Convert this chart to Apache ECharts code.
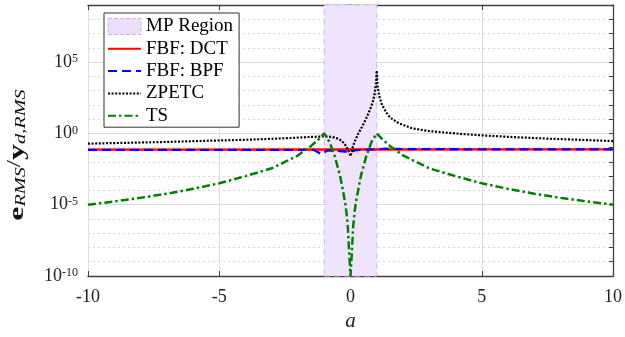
<!DOCTYPE html>
<html>
<head>
<meta charset="utf-8">
<script src="https://cdn.jsdelivr.net/npm/echarts@6/dist/echarts.min.js"></script>
<style>
  html, body { margin: 0; padding: 0; background: #fff; }
  #chart { width: 625px; height: 337px; }
</style>
</head>
<body>
<div id="chart"></div>
<script>
// x values (a) and log10 of e_RMS / y_d,RMS
const mpRegion = [-1, 1];

const dctA = [-10, -5, 0, 5, 10];
const dctExp = [-1.14, -1.14, -1.13, -1.12, -1.12];

const bpfA = [-10, -5, -1.4, -1.25, -1.12, -1.0, -0.9, -0.6, -0.4, -0.2, 0, 0.2, 0.5, 1, 1.3, 2, 5, 10];
const bpfExp = [-1.16, -1.16, -1.16, -1.3, -1.45, -1.35, -1.2, -1.2, -1.25, -1.27, -1.28, -1.18, -1.15, -1.12, -1.08, -1.1, -1.12, -1.12];

const zpetcA = [-10, -8.5, -7, -5.5, -4, -3, -2, -1.5, -1, -0.7, -0.5, -0.35, -0.22, -0.12, -0.05, 0,
  0.1, 0.2, 0.3, 0.45, 0.6, 0.75, 0.85, 0.92, 0.97, 1, 1.03, 1.1, 1.2, 1.35, 1.5, 1.85, 2.35, 3, 3.65, 4.3,
  5, 6.2, 7.5, 8.7, 10];
const zpetcExp = [-0.72, -0.66, -0.6, -0.52, -0.45, -0.38, -0.3, -0.25, -0.21, -0.25, -0.36, -0.5, -0.75, -1.05, -1.35, -1.6,
  -0.85, -0.4, 0.0, 0.5, 1.05, 1.7, 2.2, 2.8, 3.5, 4.4, 3.3, 2.6, 2.0, 1.5, 1.12, 0.7, 0.35, 0.16, 0.05, -0.05,
  -0.14, -0.26, -0.37, -0.45, -0.54];

const tsA = [-10, -9, -8, -7, -6, -5, -4, -3, -2.5, -2, -1.75, -1.5, -1.25, -1,
  -0.8, -0.6, -0.4, -0.3, -0.2, -0.15, -0.1, -0.05, 0, 0.05, 0.1, 0.15, 0.2, 0.3, 0.4, 0.6, 0.8,
  1, 1.25, 1.5, 1.75, 2, 2.5, 3, 4, 5, 6, 7, 8, 9, 10];
const tsExp = [-5.0, -4.77, -4.52, -4.23, -3.89, -3.5, -3.0, -2.45, -2.0, -1.55, -1.2, -0.88, -0.48, 0,
  -0.6, -1.6, -2.95, -3.9, -4.9, -5.6, -6.6, -8.4, -10, -8.4, -6.6, -5.6, -4.9, -3.9, -2.95, -1.6, -0.6,
  0, -0.48, -0.88, -1.2, -1.55, -2.0, -2.45, -3.0, -3.5, -3.89, -4.23, -4.52, -4.77, -5.0];

const xTicks = [-10, -5, 0, 5, 10];
const yMinExp = -10;
const yMaxExp = 9;

const serif = '"Liberation Serif", "Times New Roman", serif';
const axisColor = '#404040';

function toPairs(xs, exps) {
  return xs.map((x, i) => [x, Math.pow(10, exps[i])]);
}

const chart = echarts.init(document.getElementById('chart'), null, { renderer: 'canvas' });

const yBase = {
  type: 'log',
  logBase: 10,
  min: Math.pow(10, yMinExp),
  max: Math.pow(10, yMaxExp)
};

const option = {
  animation: false,
  backgroundColor: '#fff',
  grid: { left: 88, right: 11, top: 5, bottom: 61 },
  legend: {
    left: 104,
    top: 13,
    orient: 'vertical',
    backgroundColor: '#fff',
    borderColor: '#333',
    borderWidth: 1,
    borderRadius: 0,
    padding: [4, 6, 2, 3],
    itemWidth: 33,
    itemHeight: 16,
    itemGap: 3.3,
    // hide the marker dot that line series put in the legend icon
    itemStyle: { opacity: 0 },
    textStyle: { fontFamily: serif, fontSize: 19, color: '#000', lineHeight: 19 },
    data: [
      {
        name: 'MP Region',
        icon: 'rect',
        itemStyle: { opacity: 1, color: '#ecdffc', borderColor: '#cdaaf3', borderWidth: 1, borderType: 'dashed' }
      },
      { name: 'FBF: DCT' },
      { name: 'FBF: BPF' },
      { name: 'ZPETC' },
      { name: 'TS' }
    ]
  },
  xAxis: [
    {
      type: 'value',
      min: xTicks[0],
      max: xTicks[xTicks.length - 1],
      interval: 5,
      position: 'bottom',
      name: 'a',
      nameLocation: 'middle',
      nameGap: 34,
      nameTextStyle: { fontFamily: serif, fontStyle: 'italic', fontSize: 21, color: '#222' },
      axisLine: { show: true, onZero: false, lineStyle: { color: axisColor, width: 1.3 } },
      axisTick: { show: true, inside: true, length: 5, lineStyle: { color: axisColor } },
      axisLabel: { fontFamily: serif, fontSize: 18, color: '#222', margin: 12 },
      splitLine: { show: true, lineStyle: { color: '#dedede', width: 1 } }
    },
    {
      type: 'value',
      min: xTicks[0],
      max: xTicks[xTicks.length - 1],
      interval: 5,
      position: 'top',
      axisLine: { show: true, onZero: false, lineStyle: { color: axisColor, width: 1.3 } },
      axisTick: { show: true, inside: true, length: 5, lineStyle: { color: axisColor } },
      axisLabel: { show: false },
      splitLine: { show: false }
    }
  ],
  yAxis: [
    // labelled decades 10^-10, 10^-5, 10^0, 10^5
    Object.assign({}, yBase, {
      position: 'left',
      interval: 5,
      axisLine: { show: true, lineStyle: { color: axisColor, width: 1.3 } },
      axisTick: { show: false },
      axisLabel: {
        margin: 10,
        formatter: (v) => {
          const e = Math.round(Math.log10(v));
          if (e % 5 !== 0) return '';
          return '{b|10}{s|' + e + '}';
        },
        rich: {
          b: { fontFamily: serif, fontSize: 18, color: '#222', lineHeight: 18, verticalAlign: 'bottom' },
          s: { fontFamily: serif, fontSize: 12, color: '#222', lineHeight: 12, verticalAlign: 'top', padding: [0, 0, 10, 0] }
        }
      },
      splitLine: { show: true, lineStyle: { color: '#dedede', width: 1 } }
    }),
    // every decade: dotted minor grid + ticks on the left
    Object.assign({}, yBase, {
      position: 'left',
      interval: 1,
      axisLine: { show: false },
      axisTick: { show: true, inside: true, length: 4, lineStyle: { color: axisColor } },
      axisLabel: { show: false },
      splitLine: { show: true, lineStyle: { color: '#d6d6d6', width: 1, type: [2, 3] } }
    }),
    // right border with ticks
    Object.assign({}, yBase, {
      position: 'right',
      interval: 1,
      axisLine: { show: true, lineStyle: { color: axisColor, width: 1.3 } },
      axisTick: { show: true, inside: true, length: 4, lineStyle: { color: axisColor } },
      axisLabel: { show: false },
      splitLine: { show: false }
    })
  ],
  graphic: [
    {
      type: 'text',
      x: 17,
      y: 155,
      rotation: Math.PI / 2,
      scaleX: 1.45,
      style: {
        text: '{b|e}{sub|RMS}{n|/}{b|y}{sub|d,RMS}',
        align: 'center',
        verticalAlign: 'middle',
        rich: {
          b: { fontFamily: serif, fontWeight: 'bold', fontSize: 22, lineHeight: 22, verticalAlign: 'top', fill: '#111' },
          n: { fontFamily: serif, fontSize: 18, lineHeight: 22, verticalAlign: 'top', fill: '#111' },
          sub: { fontFamily: serif, fontStyle: 'italic', fontSize: 14, lineHeight: 14, verticalAlign: 'bottom', padding: [8, 0, 0, 0], fill: '#111' }
        }
      }
    }
  ],
  series: [
    {
      name: 'MP Region',
      type: 'line',
      data: [],
      z: 1,
      itemStyle: { color: '#ecdffc' },
      markArea: {
        silent: true,
        itemStyle: { color: '#efe4fc', borderColor: '#d2b3f3', borderWidth: 1, borderType: [6, 4] },
        data: [[{ xAxis: mpRegion[0] }, { xAxis: mpRegion[1] }]]
      }
    },
    {
      name: 'FBF: DCT',
      type: 'line',
      z: 3,
      symbol: 'none',
      data: toPairs(dctA, dctExp),
      itemStyle: { color: '#ff0000' },
      lineStyle: { color: '#ff0000', width: 2.3 }
    },
    {
      name: 'FBF: BPF',
      type: 'line',
      z: 4,
      symbol: 'none',
      data: toPairs(bpfA, bpfExp),
      itemStyle: { color: '#0000ff' },
      lineStyle: { color: '#0000ff', width: 2.3, type: [9, 5] }
    },
    {
      name: 'ZPETC',
      type: 'line',
      z: 5,
      symbol: 'none',
      data: toPairs(zpetcA, zpetcExp),
      itemStyle: { color: '#000' },
      lineStyle: { color: '#000', width: 2.2, type: [2, 1.6] }
    },
    {
      name: 'TS',
      type: 'line',
      z: 6,
      symbol: 'none',
      data: toPairs(tsA, tsExp),
      itemStyle: { color: '#008000' },
      lineStyle: { color: '#008000', width: 2.5, type: [8, 3, 2.5, 3] }
    }
  ]
};

chart.setOption(option);
</script>
</body>
</html>
